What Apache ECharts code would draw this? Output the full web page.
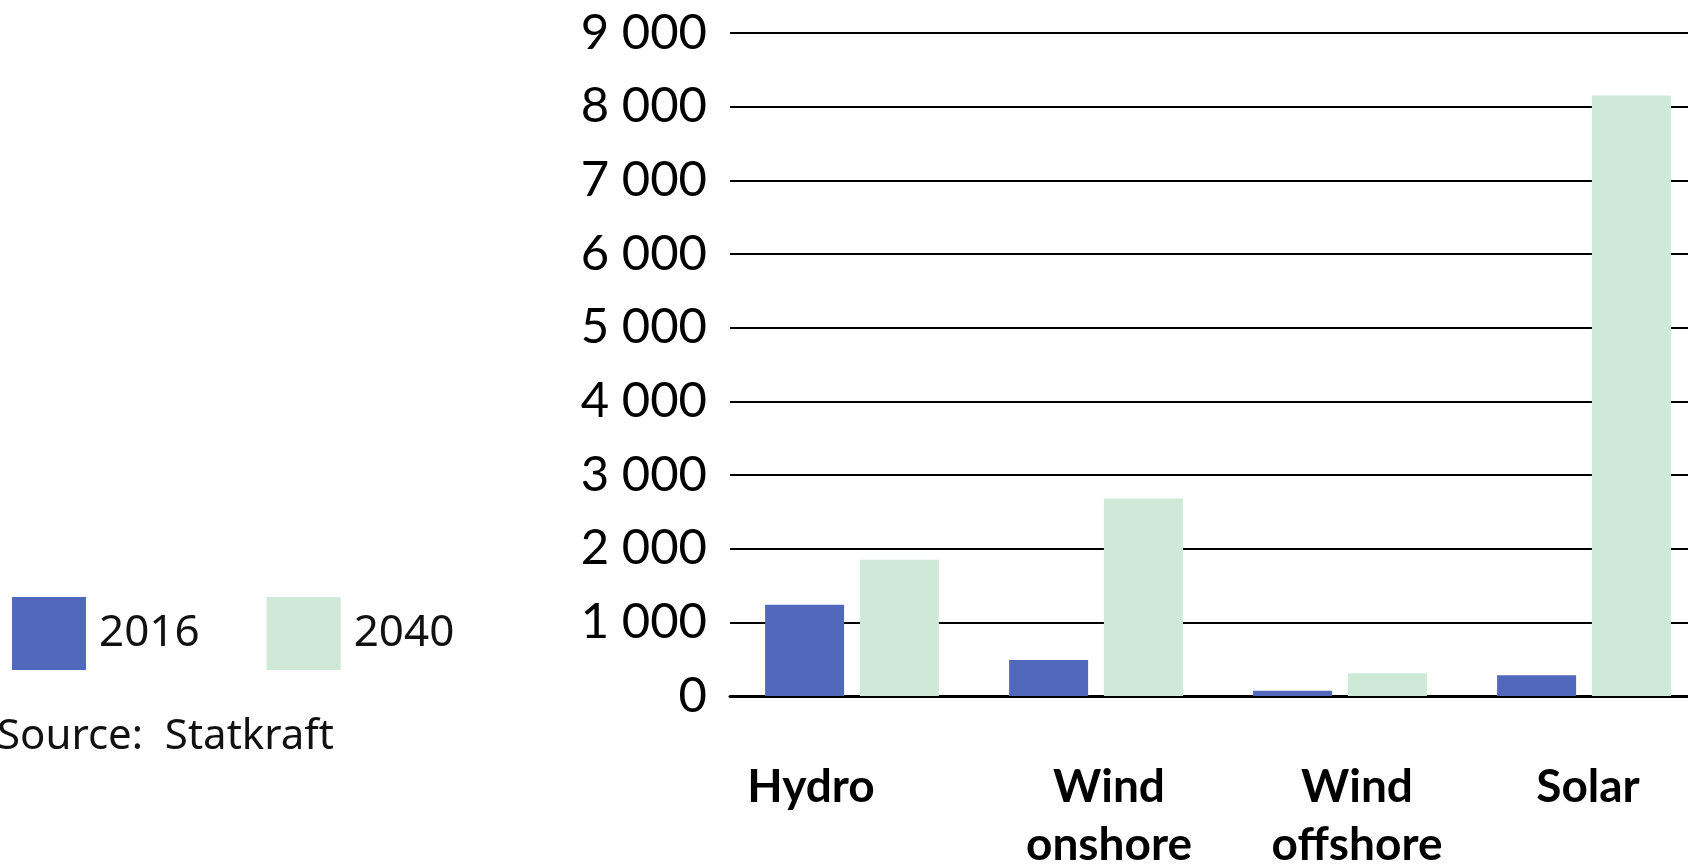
<!DOCTYPE html>
<html>
<head>
<meta charset="utf-8">
<script src="https://cdn.jsdelivr.net/npm/echarts@6/dist/echarts.min.js"></script>
<style>
  html, body { margin: 0; padding: 0; background: #ffffff; }
  #chart { width: 1688px; height: 867px; }
</style>
</head>
<body>
<div id="chart"></div>
<script>
// Renewable capacity by technology, 2016 vs 2040
const categories = ['Hydro', 'Wind\nonshore', 'Wind\noffshore', 'Solar'];
const values2016 = [1240, 490, 70, 280];
const values2040 = [1850, 2680, 310, 8150];
const seriesNames = ['2016', '2040'];
const sourceText = 'Source:  Statkraft';

// horizontal nudges for the category labels (px)
const labelShift = [-41, 13, 17, 4];

const chart = echarts.init(document.getElementById('chart'), null, { renderer: 'canvas' });

function spaced(v) {
  return String(v).replace(/\B(?=(\d{3})+(?!\d))/g, ' ');
}

const richStyles = {};
labelShift.forEach((s, i) => {
  richStyles['c' + i] = {
    fontFamily: 'Lato',
    fontWeight: 'bold',
    fontSize: 46,
    lineHeight: 58,
    color: '#000000',
    padding: s < 0 ? [0, -2 * s, 0, 0] : [0, 0, 0, 2 * s]
  };
});

chart.setOption({
  animation: false,
  backgroundColor: '#ffffff',
  grid: {
    left: 730, top: 33, width: 976, height: 663,
    containLabel: false,
    outerBoundsMode: 'none'
  },
  legend: {
    left: 12,
    top: 597,
    padding: 0,
    orient: 'horizontal',
    icon: 'rect',
    itemWidth: 74,
    itemHeight: 73,
    itemGap: 67,
    textStyle: { fontFamily: 'Noto Sans', fontSize: 44, color: '#111111', padding: [0, 0, 0, 8] },
    data: seriesNames
  },
  graphic: [{
    type: 'text',
    left: -3,
    top: 716,
    style: { text: sourceText, font: '42px "Noto Sans"', fill: '#111111' }
  }],
  xAxis: {
    type: 'category',
    data: categories,
    axisLine: { show: true, lineStyle: { color: '#000000', width: 3 } },
    axisTick: { show: false },
    axisLabel: {
      interval: 0,
      margin: 62,
      formatter: (v, i) => v.split('\n').map(line => '{c' + i + '|' + line + '}').join('\n'),
      rich: richStyles
    }
  },
  yAxis: {
    type: 'value',
    min: 0,
    max: 9000,
    interval: 1000,
    axisLine: { show: false },
    axisTick: { show: false },
    splitLine: { show: true, lineStyle: { color: '#000000', width: 2 } },
    axisLabel: {
      margin: 23,
      fontFamily: 'Lato',
      fontSize: 49,
      color: '#000000',
      formatter: v => spaced(v)
    }
  },
  series: [
    {
      name: seriesNames[0],
      type: 'bar',
      data: values2016,
      barWidth: 79,
      barGap: '20%',
      itemStyle: { color: '#5268BA' }
    },
    {
      name: seriesNames[1],
      type: 'bar',
      data: values2040,
      barWidth: 79,
      barGap: '20%',
      itemStyle: { color: '#CFE9D8' }
    }
  ]
});
</script>
</body>
</html>
